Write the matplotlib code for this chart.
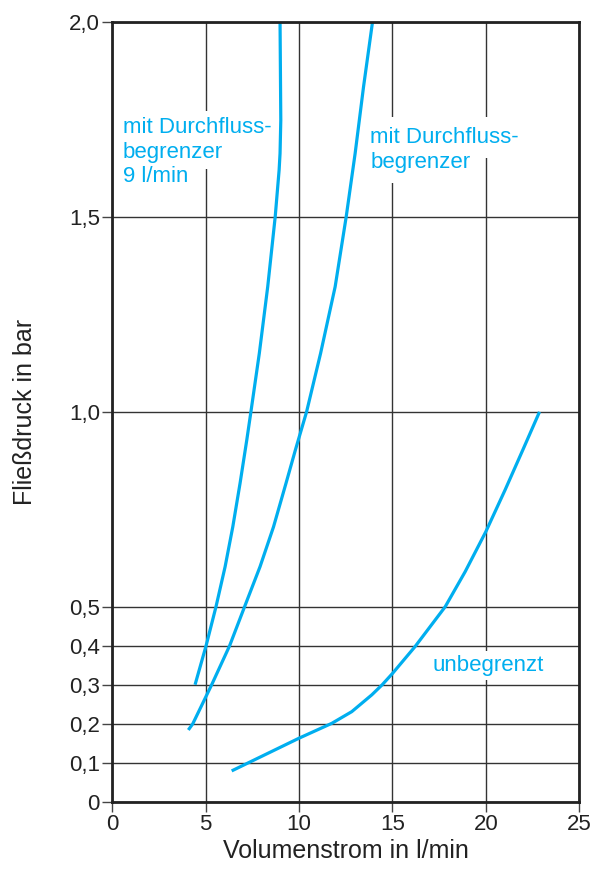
import matplotlib
matplotlib.use("Agg")
import matplotlib.pyplot as plt

# ---- data ----
flow_9 = [4.43, 5.02, 5.55, 6.04, 6.45, 6.84, 7.2, 7.42, 7.87, 8.32, 8.72, 8.93, 8.98, 9.02, 8.98]
press_9 = [0.30, 0.40, 0.50, 0.603, 0.705, 0.817, 0.928, 1.0, 1.15, 1.321, 1.5, 1.62, 1.663, 1.748, 2.0]

flow_lim = [4.07, 4.31, 5.32, 6.28, 7.08, 7.91, 8.63, 9.3, 9.8, 10.4, 11.15, 11.93, 12.52, 13.0, 13.45, 13.93]
press_lim = [0.184, 0.2, 0.3, 0.4, 0.5, 0.603, 0.705, 0.817, 0.902, 1.0, 1.15, 1.321, 1.5, 1.663, 1.834, 2.0]

flow_unl = [6.39, 10.0, 11.75, 12.82, 13.89, 14.45, 15.0, 16.21, 17.82, 18.89, 20.0, 21.03, 22.01, 22.87]
press_unl = [0.079, 0.163, 0.201, 0.231, 0.274, 0.3, 0.329, 0.398, 0.5, 0.59, 0.693, 0.800, 0.906, 1.0]

x_ticks = [0, 5, 10, 15, 20, 25]
x_tick_labels = ["0", "5", "10", "15", "20", "25"]
y_ticks = [0, 0.1, 0.2, 0.3, 0.4, 0.5, 1.0, 1.5, 2.0]
y_tick_labels = ["0", "0,1", "0,2", "0,3", "0,4", "0,5", "1,0", "1,5", "2,0"]

label_9 = ["mit Durchfluss-", "begrenzer", "9 l/min"]
label_lim = ["mit Durchfluss-", "begrenzer"]
label_unl = "unbegrenzt"
x_label = "Volumenstrom in l/min"
y_label = "Fließdruck in bar"

# ---- style ----
plt.rcParams["font.family"] = ["Liberation Sans", "DejaVu Sans"]
BLUE = "#00AEEF"
DARK = "#222222"

W, H = 595, 869
fig = plt.figure(figsize=(W / 100, H / 100), dpi=100)
left, right, top, bottom = 112.3, 579.3, 22.0, 801.7
ax = fig.add_axes([left / W, (H - bottom) / H, (right - left) / W, (bottom - top) / H])

ax.set_xlim(0, 25)
ax.set_ylim(0, 2.0)
ax.set_xticks(x_ticks)
ax.set_xticklabels(x_tick_labels)
ax.set_yticks(y_ticks)
ax.set_yticklabels(y_tick_labels)

ax.grid(True, color="#333333", linewidth=1.0, zorder=1)
ax.set_axisbelow(True)
for s in ax.spines.values():
    s.set_linewidth(2.0)
    s.set_color(DARK)
    s.set_zorder(6)

ax.tick_params(direction="out", length=7, width=1.0, color="#444444",
               labelsize=16, labelcolor=DARK, pad=2)

ax.set_xlabel(x_label, fontsize=18, color=DARK, labelpad=3)
ax.set_ylabel(y_label, fontsize=18, color=DARK, labelpad=23)

lw = 2.3
for fx, py in [(flow_9, press_9), (flow_lim, press_lim), (flow_unl, press_unl)]:
    ax.plot(fx, py, color=BLUE, lw=lw, zorder=5, solid_capstyle="butt",
            solid_joinstyle="round")

fs = 16
dy = 24.5 / 389.85


def label(x, y, t, pad, va="baseline"):
    # white mask behind the text (drawn first), then the text itself on top
    ax.text(x, y, t, color="none", fontsize=fs, va=va, ha="left",
            bbox=dict(facecolor="white", edgecolor="none", pad=pad), zorder=2)
    ax.text(x, y, t, color=BLUE, fontsize=fs, va=va, ha="left", zorder=3)


y0 = 1.715
for i, t in enumerate(label_9):
    label(0.57, y0 - i * dy, t, 4.5)
y1 = 1.689
for i, t in enumerate(label_lim):
    label(13.8, y1 - i * dy, t, 7)
label(17.12, 0.35, label_unl, 3, va="center")

fig.savefig("out.png", dpi=100)
